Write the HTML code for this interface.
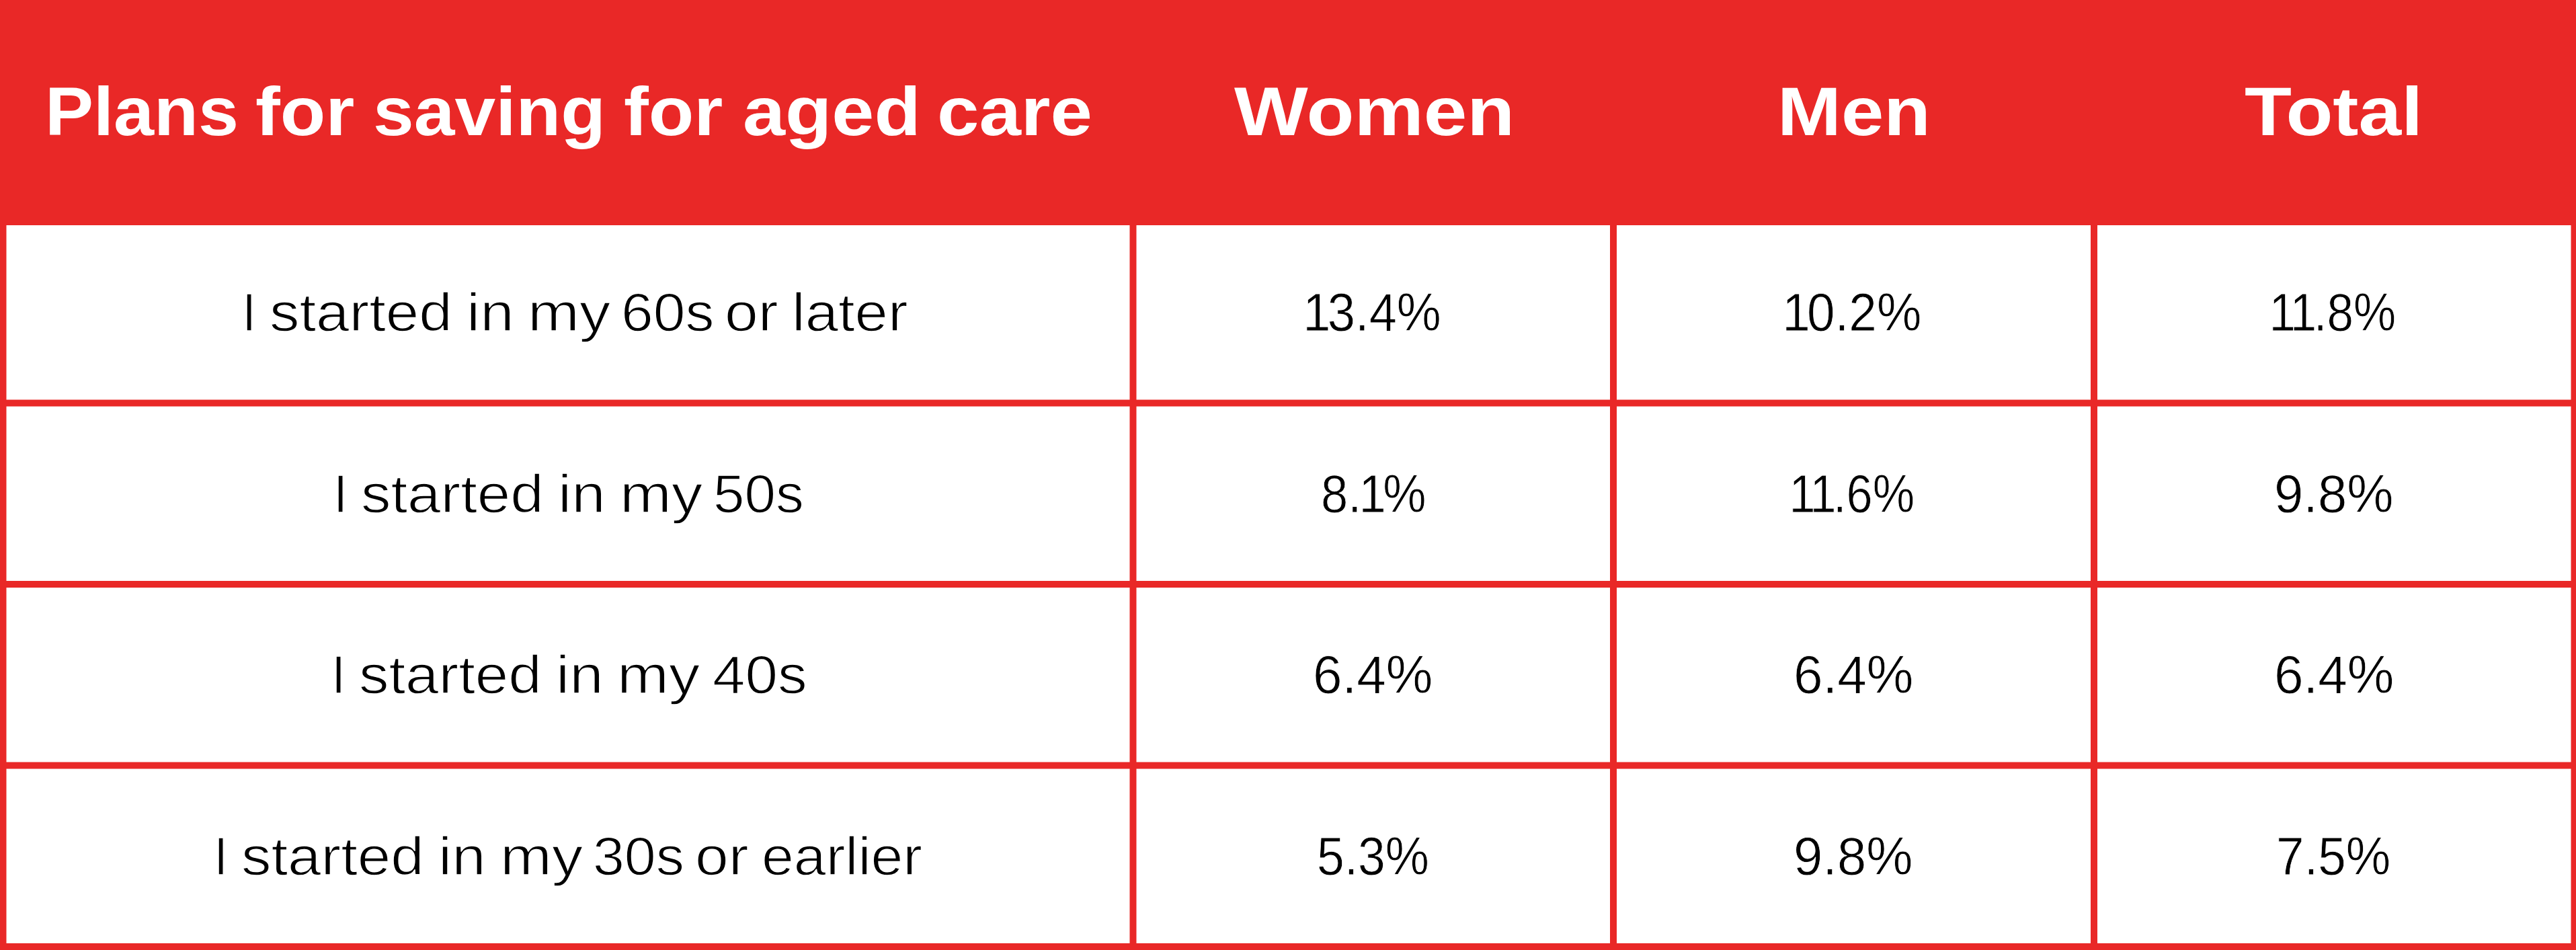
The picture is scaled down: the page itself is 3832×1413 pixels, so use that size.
<!DOCTYPE html>
<html lang="en"><head><meta charset="utf-8"><title>Plans for saving for aged care</title>
<style>
html,body{margin:0;padding:0}
body{width:3832px;height:1413px;background:#E92827;position:relative;overflow:hidden;font-family:"Liberation Sans",sans-serif}
svg{position:absolute;left:0;top:0}
table{position:absolute;left:0;top:0;width:3832px;height:1413px;table-layout:fixed;border-collapse:collapse;border-spacing:0}
th,td{position:relative;padding:0;margin:0;border:0;vertical-align:top;text-align:left;overflow:visible}
.t{position:absolute;left:0;white-space:nowrap;line-height:1}
.t>span{position:absolute;top:0;transform-origin:0 0}
.k{margin-left:-4px;letter-spacing:-5px}
.h{font-weight:700;font-size:101.6px;color:#fff;height:101.6px}
.b{font-weight:400;font-size:79.0px;color:#000;height:79.0px;-webkit-text-stroke:1.4px #fff}
.n{font-size:79.0px;height:79.0px;-webkit-text-stroke-width:0.8px}
</style></head><body>
<svg width="3832" height="1413" viewBox="0 0 3832 1413"><g fill="#fff"><rect x="9.5" y="335" width="1671.0" height="259.5"/><rect x="1690.5" y="335" width="704.5" height="259.5"/><rect x="2405" y="335" width="705" height="259.5"/><rect x="3120" y="335" width="704.5" height="259.5"/><rect x="9.5" y="604.5" width="1671.0" height="259.5"/><rect x="1690.5" y="604.5" width="704.5" height="259.5"/><rect x="2405" y="604.5" width="705" height="259.5"/><rect x="3120" y="604.5" width="704.5" height="259.5"/><rect x="9.5" y="874" width="1671.0" height="259.5"/><rect x="1690.5" y="874" width="704.5" height="259.5"/><rect x="2405" y="874" width="705" height="259.5"/><rect x="3120" y="874" width="704.5" height="259.5"/><rect x="9.5" y="1143.5" width="1671.0" height="259.5"/><rect x="1690.5" y="1143.5" width="704.5" height="259.5"/><rect x="2405" y="1143.5" width="705" height="259.5"/><rect x="3120" y="1143.5" width="704.5" height="259.5"/></g></svg>
<table><colgroup><col style="width:1685px"><col style="width:715px"><col style="width:715px"><col style="width:717px"></colgroup><thead><tr style="height:335px"><th><div class="t h" style="top:116px"><span style="left:66.68px;transform:scaleX(1.0626)">Plans</span> <span style="left:380.30px;transform:scaleX(1.0881)">for</span> <span style="left:554.87px;transform:scaleX(1.0747)">saving</span> <span style="left:928.10px;transform:scaleX(1.0881)">for</span> <span style="left:1104.95px;transform:scaleX(1.1165)">aged</span> <span style="left:1394.48px;transform:scaleX(1.1042)">care</span></div></th><th><div class="t h" style="top:116px"><span style="left:150.61px;transform:scaleX(1.1431)">Women</span></div></th><th><div class="t h" style="top:116px"><span style="left:243.93px;transform:scaleX(1.1212)">Men</span></div></th><th><div class="t h" style="top:116px"><span style="left:224.49px;transform:scaleX(1.1268)">Total</span></div></th></tr></thead><tbody><tr style="height:265px"><td><div class="t b" style="top:90px"><span style="left:359.57px;transform:scaleX(0.9667)">I</span> <span style="left:400.63px;transform:scaleX(1.1248)">started</span> <span style="left:693.61px;transform:scaleX(1.1477)">in</span> <span style="left:784.98px;transform:scaleX(1.1694)">my</span> <span style="left:924.44px;transform:scaleX(1.0857)">60s</span> <span style="left:1078.47px;transform:scaleX(1.1315)">or</span> <span style="left:1178.27px;transform:scaleX(1.1218)">later</span></div></td><td><div class="t b n" style="top:90px"><span style="left:256.55px;transform:scaleX(0.9386)"><span class="k">1</span>3.4%</span></div></td><td><div class="t b n" style="top:90px"><span style="left:255.04px;transform:scaleX(0.9458)"><span class="k">1</span>0.2%</span></div></td><td><div class="t b n" style="top:90px"><span style="left:263.65px;transform:scaleX(0.8994)"><span class="k">1</span><span class="k">1</span>.8%</span></div></td></tr>
<tr style="height:269px"><td><div class="t b" style="top:95px"><span style="left:496.37px;transform:scaleX(0.9667)">I</span> <span style="left:537.43px;transform:scaleX(1.1248)">started</span> <span style="left:830.41px;transform:scaleX(1.1477)">in</span> <span style="left:921.78px;transform:scaleX(1.1694)">my</span> <span style="left:1061.07px;transform:scaleX(1.0572)">50s</span></div></td><td><div class="t b n" style="top:95px"><span style="left:279.77px;transform:scaleX(0.9146)">8.<span class="k">1</span>%</span></div></td><td><div class="t b n" style="top:95px"><span style="left:265.08px;transform:scaleX(0.8889)"><span class="k">1</span><span class="k">1</span>.6%</span></div></td><td><div class="t b n" style="top:95px"><span style="left:267.86px;transform:scaleX(0.9852)">9.8%</span></div></td></tr>
<tr style="height:269px"><td><div class="t b" style="top:95px"><span style="left:492.87px;transform:scaleX(0.9667)">I</span> <span style="left:533.93px;transform:scaleX(1.1248)">started</span> <span style="left:826.91px;transform:scaleX(1.1477)">in</span> <span style="left:918.28px;transform:scaleX(1.1694)">my</span> <span style="left:1059.64px;transform:scaleX(1.1035)">40s</span></div></td><td><div class="t b n" style="top:95px"><span style="left:268.44px;transform:scaleX(0.9904)">6.4%</span></div></td><td><div class="t b n" style="top:95px"><span style="left:267.64px;transform:scaleX(0.9904)">6.4%</span></div></td><td><div class="t b n" style="top:95px"><span style="left:267.64px;transform:scaleX(0.9904)">6.4%</span></div></td></tr>
<tr style="height:275px"><td><div class="t b" style="top:96px"><span style="left:318.37px;transform:scaleX(0.9667)">I</span> <span style="left:359.43px;transform:scaleX(1.1248)">started</span> <span style="left:652.41px;transform:scaleX(1.1477)">in</span> <span style="left:743.78px;transform:scaleX(1.1694)">my</span> <span style="left:881.80px;transform:scaleX(1.0667)">30s</span> <span style="left:1034.07px;transform:scaleX(1.1315)">or</span> <span style="left:1133.25px;transform:scaleX(1.0885)">earlier</span></div></td><td><div class="t b n" style="top:96px"><span style="left:273.83px;transform:scaleX(0.9266)">5.3%</span></div></td><td><div class="t b n" style="top:96px"><span style="left:267.86px;transform:scaleX(0.9852)">9.8%</span></div></td><td><div class="t b n" style="top:96px"><span style="left:270.84px;transform:scaleX(0.9457)">7.5%</span></div></td></tr></tbody></table>
</body></html>
